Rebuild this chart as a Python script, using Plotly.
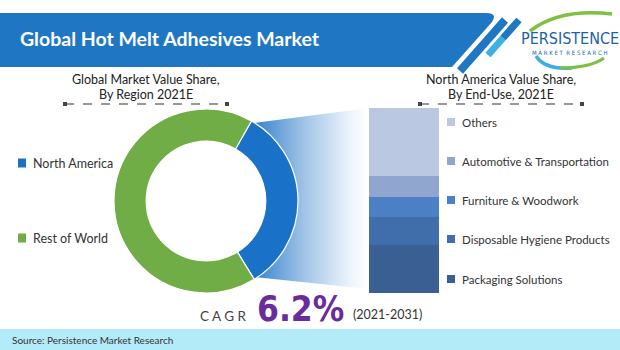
import math
import plotly.graph_objects as go

# ---------------- data ----------------
region_labels = ["North America", "Rest of World"]
region_values = [33, 67]
region_colors = ["#1a72c8", "#70ad47"]

enduse_labels = ["Packaging Solutions", "Disposable Hygiene Products",
                 "Furniture & Woodwork", "Automotive & Transportation", "Others"]
enduse_values = [26, 15, 11, 11, 37]
enduse_colors = ["#3a5f92", "#3f6eaa", "#4b80c4", "#90a6cf", "#bac8e2"]

cagr_text = "6.2%"
cagr_period = "(2021-2031)"
title_text = "Global Hot Melt Adhesives Market"
left_title = ["Global Market Value Share,", "By Region 2021E"]
right_title = ["North America Value Share,", "By End-Use, 2021E"]
source_text = "Source: Persistence Market Research"

W, H = 620, 350
BODY = "Lato, 'Open Sans', sans-serif"
NARROW = "'DejaVu Sans Condensed', 'DejaVu Sans'"

# donut geometry (pixels)
cx, cy, R = 206, 201, 92
rotation = 29.6
# bar geometry (pixels)
bx0, bx1, by0, by1 = 369, 439, 108, 293

fig = go.Figure()

# ---------- gradient funnel from NA slice to the bar ----------
a0 = math.radians(rotation)
a1 = math.radians(rotation + 360 * region_values[0] / sum(region_values))
fx, fy = [], []
n = 40
for i in range(n + 1):
    a = a0 + (a1 - a0) * i / n
    fx.append(cx + (R - 3) * math.sin(a))
    fy.append(cy - (R - 3) * math.cos(a))
fx += [bx0, bx0, fx[0]]
fy += [by1 - 4, by0, fy[0]]
fig.add_trace(go.Scatter(
    x=fx, y=fy, mode="lines", fill="toself", line=dict(width=0),
    fillgradient=dict(type="horizontal",
                      colorscale=[[0, "rgb(45,125,205)"], [0.45, "rgb(160,195,230)"],
                                  [0.85, "rgb(238,245,252)"], [1, "rgb(255,255,255)"]]),
    hoverinfo="skip", showlegend=False, xaxis="x", yaxis="y"))

# ---------- donut ----------
fig.add_trace(go.Pie(
    labels=region_labels, values=region_values, hole=0.65, sort=False,
    direction="clockwise", rotation=rotation,
    marker=dict(colors=region_colors, line=dict(color="white", width=1.2)),
    textinfo="none", showlegend=False,
    domain=dict(x=[(cx - R) / W, (cx + R) / W], y=[(H - cy - R) / H, (H - cy + R) / H])))

# ---------- stacked bar ----------
for lab, val, col in zip(enduse_labels, enduse_values, enduse_colors):
    fig.add_trace(go.Bar(x=[0], y=[val], name=lab, marker=dict(color=col, line=dict(width=0)),
                         width=1, showlegend=False, xaxis="x2", yaxis="y2"))

shapes = []
ann = []

# banner
shapes.append(dict(type="path", xref="x", yref="y",
                   path="M0,13 L486,13 Q498,13 492,22 L452,67 L0,67 Z",
                   fillcolor="#1f77c4", line=dict(width=0), layer="below"))
shapes.append(dict(type="line", xref="x", yref="y", x0=460, y0=71, x1=505, y1=20,
                   line=dict(color="#1f77c4", width=8)))
shapes.append(dict(type="line", xref="x", yref="y", x0=488, y0=55, x1=503, y1=38,
                   line=dict(color="#3cb1e3", width=7)))
shapes.append(dict(type="line", xref="x", yref="y", x0=503, y0=38, x1=519, y1=20,
                   line=dict(color="#1f77c4", width=7)))
ann.append(dict(text="<b>" + title_text + "</b>", x=18, y=38, xref="x", yref="y",
                xanchor="left", yanchor="middle", showarrow=False,
                font=dict(family="Lato, sans-serif", size=19.5, color="white")))

# logo
shapes.append(dict(type="path", xref="x", yref="y",
                   path="M530,31 Q560,8 612,14", line=dict(color="#7dc142", width=3.5)))
shapes.append(dict(type="path", xref="x", yref="y",
                   path="M536,56 Q545,70 572,68", line=dict(color="#3aaee0", width=3.5)))
shapes.append(dict(type="path", xref="x", yref="y",
                   path="M560,68 Q590,68 604,58", line=dict(color="#7dc142", width=3)))
ann.append(dict(text="PERSISTENCE", x=570, y=38, xref="x", yref="y", showarrow=False,
                xanchor="center", yanchor="middle",
                font=dict(family=NARROW, size=16, color="#1d5fa8")))
ann.append(dict(text="M A R K E T  R E S E A R C H", x=570, y=52, xref="x", yref="y", showarrow=False,
                xanchor="center", yanchor="middle",
                font=dict(family=NARROW, size=6, color="#1d5fa8")))

# section titles
for tx, lines, dx0, dx1 in [(146, left_title, 65, 227), (501, right_title, 420, 582)]:
    for ly, line in zip([79, 94], lines):
        ann.append(dict(text=line, x=tx, y=ly, xref="x", yref="y", showarrow=False,
                        xanchor="center", yanchor="middle",
                        font=dict(family=BODY, size=12.5, color="#222")))
    shapes.append(dict(type="line", xref="x", yref="y", x0=dx0, y0=104, x1=dx1, y1=104,
                       line=dict(color="#777", width=1.3, dash="dash")))
    for ex in (dx0, dx1):
        shapes.append(dict(type="rect", xref="x", yref="y", x0=ex - 2, y0=102, x1=ex + 2, y1=106,
                           fillcolor="#444", line=dict(width=0)))

# left legend
for lab, col, ly in zip(region_labels, region_colors, [163, 238]):
    shapes.append(dict(type="rect", xref="x", yref="y", x0=18, y0=ly - 4.5, x1=26, y1=ly + 4.5,
                       fillcolor=col, line=dict(width=0)))
    ann.append(dict(text=lab, x=31, y=ly, xref="x", yref="y", showarrow=False,
                    xanchor="left", yanchor="middle",
                    font=dict(family=BODY, size=12.5, color="#333")))

# right legend
for lab, col, ly in zip(enduse_labels, enduse_colors, [279, 239, 200, 161, 122]):
    shapes.append(dict(type="rect", xref="x", yref="y", x0=447, y0=ly - 4, x1=455, y1=ly + 4,
                       fillcolor=col, line=dict(width=0)))
    ann.append(dict(text=lab, x=460, y=ly, xref="x", yref="y", showarrow=False,
                    xanchor="left", yanchor="middle",
                    font=dict(family=BODY, size=11.5, color="#333")))

# CAGR
ann.append(dict(text="C A G R", x=223, y=316, xref="x", yref="y", showarrow=False,
                xanchor="center", yanchor="middle",
                font=dict(family=BODY, size=13.5, color="#444")))
ann.append(dict(text="<b>" + cagr_text + "</b>", x=300, y=309, xref="x", yref="y", showarrow=False,
                xanchor="center", yanchor="middle",
                font=dict(family=NARROW, size=35, color="#6a2c9c")))
ann.append(dict(text=cagr_period, x=387, y=314, xref="x", yref="y", showarrow=False,
                xanchor="center", yanchor="middle",
                font=dict(family=BODY, size=12.5, color="#333")))

# source band
shapes.append(dict(type="rect", xref="x", yref="y", x0=0, y0=329, x1=620, y1=350,
                   fillcolor="#b3ebf9", line=dict(width=0), layer="below"))
ann.append(dict(text=source_text, x=10, y=340, xref="x", yref="y", showarrow=False,
                xanchor="left", yanchor="middle",
                font=dict(family=BODY, size=10, color="#333")))

fig.update_layout(
    width=W, height=H, margin=dict(l=0, r=0, t=0, b=0),
    paper_bgcolor="white", plot_bgcolor="rgba(0,0,0,0)",
    barmode="stack", bargap=0,
    xaxis=dict(range=[0, W], domain=[0, 1], visible=False, fixedrange=True),
    yaxis=dict(range=[H, 0], domain=[0, 1], visible=False, fixedrange=True),
    xaxis2=dict(range=[-0.5, 0.5], domain=[bx0 / W, bx1 / W], visible=False, anchor="y2"),
    yaxis2=dict(range=[0, sum(enduse_values)], domain=[(H - by1) / H, (H - by0) / H],
                visible=False, anchor="x2"),
    shapes=shapes, annotations=ann, showlegend=False,
)

fig.write_html("out.html")
